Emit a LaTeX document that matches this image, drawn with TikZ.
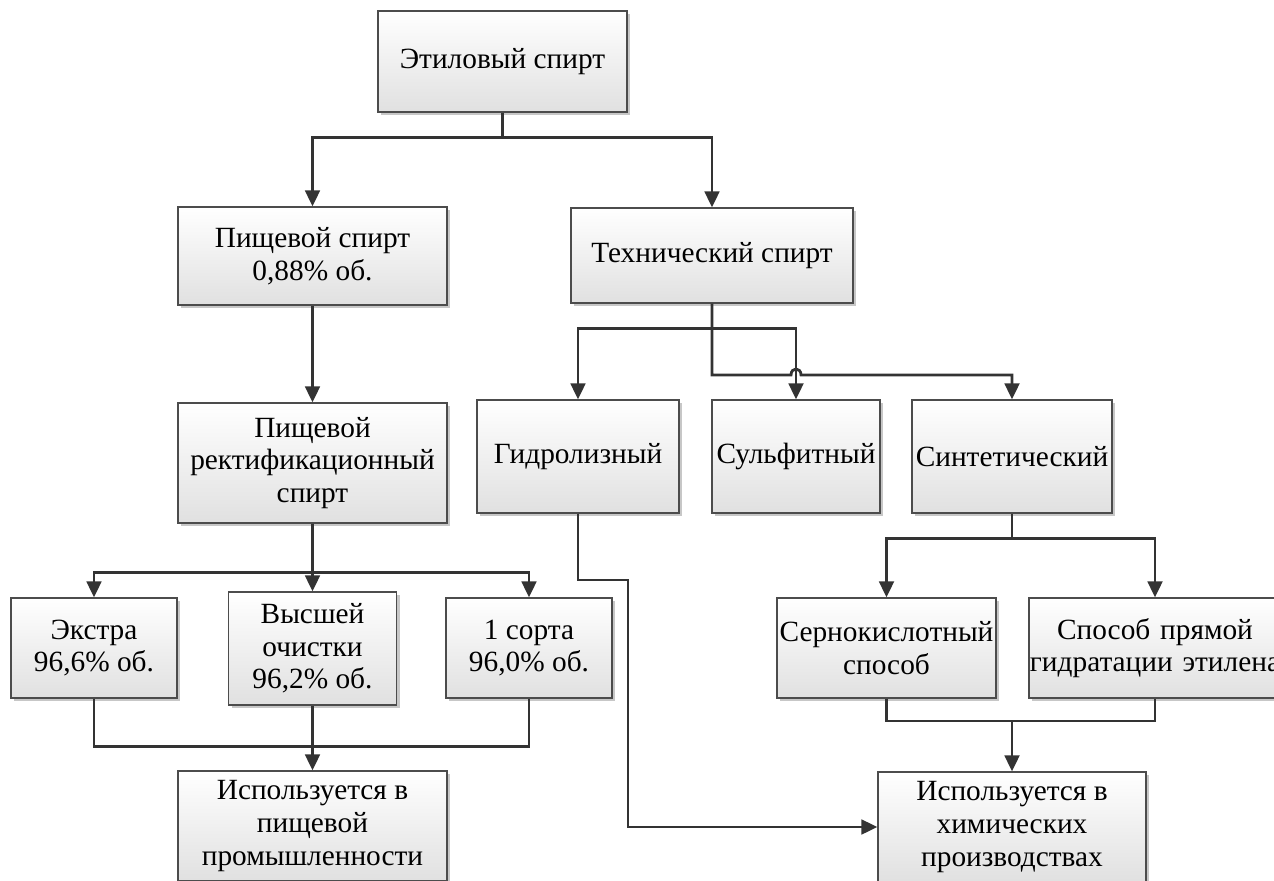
\documentclass[tikz,border=0pt]{standalone}
\usepackage{fontspec}
\setmainfont{Liberation Serif}
\usetikzlibrary{arrows.meta,shadows}
\begin{document}
\begin{tikzpicture}[x=0.75pt,y=-0.75pt,
  box/.style={draw=black!70, line width=0.9pt, top color=white, bottom color=black!12,
    align=center, inner sep=0pt, font=\fontsize{22}{24.5}\selectfont,
    copy shadow={shadow xshift=2.5pt, shadow yshift=-2.5pt, draw=none, fill=black!22}},
  conn/.style={draw=black!80, line width=2.1pt},
  arr/.style={conn, -{Triangle[length=12pt,width=11pt]}}]
\useasboundingbox (0,0) rectangle (1274,881);

\node[box, minimum width=186.75pt, minimum height=75.75pt] (A) at (502.5,61.5) {Этиловый спирт};
\node[box, minimum width=201.75pt, minimum height=73.5pt] (B) at (312.5,256) {Пищевой спирт\\0,88\% об.};
\node[box, minimum width=211.5pt, minimum height=71.25pt] (C) at (712,255.5) {Технический спирт};
\node[box, minimum width=201.75pt, minimum height=90pt] (D) at (312.5,463) {Пищевой\\ректификационный\\спирт};
\node[box, minimum width=151.5pt, minimum height=84.75pt] (E) at (578,456.5) {Гидролизный};
\node[box, minimum width=126pt, minimum height=84.75pt] (F) at (796,456.5) {Сульфитный};
\node[box, minimum width=150pt, minimum height=84.75pt] (G) at (1012,456.5) {Синтетический};
\node[box, minimum width=124.5pt, minimum height=75pt] (H) at (94,648) {Экстра\\96,6\% об.};
\node[box, minimum width=126pt, minimum height=84.75pt] (I) at (312.5,648.5) {Высшей\\очистки\\96,2\% об.};
\node[box, minimum width=124.5pt, minimum height=75pt] (J) at (529,648) {1 сорта\\96,0\% об.};
\node[box, minimum width=201.75pt, minimum height=82.5pt] (K) at (312.5,826) {Используется в\\пищевой\\промышленности};
\node[box, minimum width=164.25pt, minimum height=75pt] (L) at (886.5,648) {Сернокислотный\\способ};
\node[box, text width=189pt, minimum height=75pt] (M) at (1155,648) {Способ прямой\\гидратации этилена};
\node[box, minimum width=201pt, minimum height=82.5pt] (N) at (1012,827) {Используется в\\химических\\производствах};

% top
\draw[arr] (A.south) -- ++(0,25) -| (B.north);
\draw[arr] (A.south) -- ++(0,25) -| (C.north);
\draw[arr] (B.south) -- (D.north);
% food branch
\draw[arr] (D.south) -- ++(0,49) -| (H.north);
\draw[arr] (D.south) -- ++(0,49) -| (J.north);
\draw[arr] (D.south) -- (I.north);
\draw[conn] (H.south) -- ++(0,48) -| (J.south);
\draw[arr] (I.south) -- (K.north);
% technical branch
\draw[arr] (C.south) -- ++(0,25) -| (E.north);
\draw[arr] (C.south) -- ++(0,25) -| (F.north);
\coordinate (j1) at (791,375);
\coordinate (j2) at (801,375);
\draw[arr] (C.south) |- (j1) .. controls (791,367) and (801,367) .. (j2) -| (G.north);
% synthetic
\draw[arr] (G.south) -- ++(0,25) -| (L.north);
\draw[arr] (G.south) -- ++(0,25) -| (M.north);
\coordinate (lm) at (1012,721);
\draw[conn] (L.south) |- (lm) -| (M.south);
\draw[arr] (lm) -- (N.north);
% hydrolysis
\coordinate (e1) at (628,580);
\draw[arr] (E.south) |- (e1) |- (N.west);
\end{tikzpicture}
\end{document}
